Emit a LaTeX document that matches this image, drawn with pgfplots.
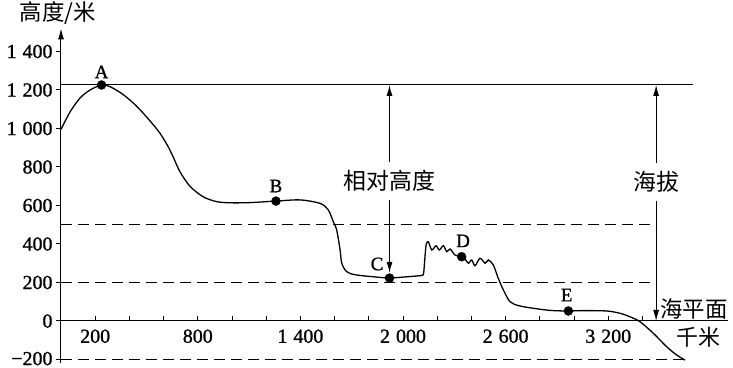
\documentclass[border=0pt]{standalone}
\usepackage{fontspec}
\setmainfont{Liberation Serif}[FakeBold=1.2]
\newfontfamily\cjk{Noto Sans CJK SC}
\usepackage{pgfplots}
\pgfplotsset{compat=1.18}
\usetikzlibrary{arrows.meta}
\newcommand{\ts}{\hspace{0.3em}}
\begin{document}
\begin{tikzpicture}
\begin{axis}[
  x=0.171bp, y=0.1925bp,
  xmin=0, xmax=3900, ymin=-220, ymax=1520,
  axis lines=middle,
  axis line style={line width=1bp},
  x axis line style={-},
  y axis line style={-{Latex[length=11bp,width=6bp]}},
  xtick={200,400,...,3400},
  xticklabels={200,,,800,,,1\ts400,,,2\ts000,,,2\ts600,,,3\ts200,},
  ytick={-200,0,200,...,1400},
  yticklabels={\raisebox{2bp}{−200},0,200,400,600,800,1\ts000,1\ts200,1\ts400},
  xtick align=inside, ytick align=outside,
  major tick length=5bp,
  tick style={line width=1bp, black},
  tick label style={font=\fontsize{20}{22}\selectfont},
  xticklabel style={yshift=-5bp},
  clip=false,
  hide obscured x ticks=false, hide obscured y ticks=false,
]
\addplot[line width=1bp] coordinates {(0,1226) (3696,1226)};
\addplot[line width=1bp, dash pattern=on 11bp off 6bp] coordinates {(0,500) (3474,500)};
\addplot[line width=1bp, dash pattern=on 11bp off 6bp] coordinates {(0,200) (3474,200)};
\addplot[line width=1bp, dash pattern=on 11bp off 6bp] coordinates {(0,-200) (3637,-200)};
\addplot[smooth, line width=1.3bp] coordinates {
(0,995) (53,1086) (111,1158) (170,1200) (237,1226) (287,1217) (364,1176)
(443,1115) (520,1040) (579,975) (627,905) (657,850) (696,775) (754,700)
(832,645) (911,620) (988,614) (1105,615) (1257,623) (1398,629) (1515,611)
(1563,577) (1592,516) (1612,473) (1632,369) (1642,300) (1671,256) (1729,239)
(1885,225) (1921,223) (2082,234) (2117,239)
(2121,250) (2126,306) (2135,395) (2148,412) (2168,369) (2193,391) (2212,369)
(2236,391) (2256,360) (2275,374) (2304,343) (2343,334) (2363,322) (2382,300)
(2402,317) (2421,287) (2450,326) (2480,300) (2499,317) (2528,291) (2557,222)
(2587,161) (2626,100) (2684,78) (2801,61) (2879,54) (2967,52) (3054,54)
(3191,52) (3269,40) (3327,22) (3386,-4) (3464,-64) (3542,-134) (3601,-177)
(3649,-203)};
\addplot[only marks, mark=*, mark size=4.5bp] coordinates {(237,1226) (1257,623) (1921,223) (2343,334) (2967,52)};
\draw[{Latex[length=11bp,width=6bp]}-{Latex[length=11bp,width=6bp]}, line width=1bp] (axis cs:1921,1226) -- (axis cs:1921,250);
\draw[{Latex[length=11bp,width=6bp]}-{Latex[length=11bp,width=6bp]}, line width=1bp] (axis cs:3480,1226) -- (axis cs:3480,0);
\node[fill=white, inner xsep=2bp, inner ysep=8bp, font=\cjk\fontsize{23}{24}\selectfont] at (axis cs:1921,727) {相对高度};
\node[fill=white, inner xsep=2bp, inner ysep=8bp, font=\cjk\fontsize{23}{24}\selectfont] at (axis cs:3480,722) {海拔};
\node[font=\cjk\fontsize{22.5}{24}\selectfont, anchor=east, inner sep=0pt] at (axis cs:3900,62) {海平面};
\node[font=\cjk\fontsize{22}{24}\selectfont, inner sep=0pt] at (axis cs:3725,-83) {千米};
\node[font=\fontsize{19}{20}\selectfont, inner sep=0pt] at (axis cs:237,1294) {A};
\node[font=\fontsize{19}{20}\selectfont, inner sep=0pt] at (axis cs:1257,701) {B};
\node[font=\fontsize{19}{20}\selectfont, inner sep=0pt] at (axis cs:1848,296) {C};
\node[font=\fontsize{19}{20}\selectfont, inner sep=0pt] at (axis cs:2351,416) {D};
\node[font=\fontsize{19}{20}\selectfont, inner sep=0pt] at (axis cs:2957,135) {E};
\end{axis}
\node[font=\cjk\fontsize{22.5}{24}\selectfont, inner sep=0pt] at (-3bp,350.35bp) {高度/米};
\pgfresetboundingbox
\path[use as bounding box] (-61bp,-4.65bp) rectangle (672bp,363.35bp);
\end{tikzpicture}
\end{document}
